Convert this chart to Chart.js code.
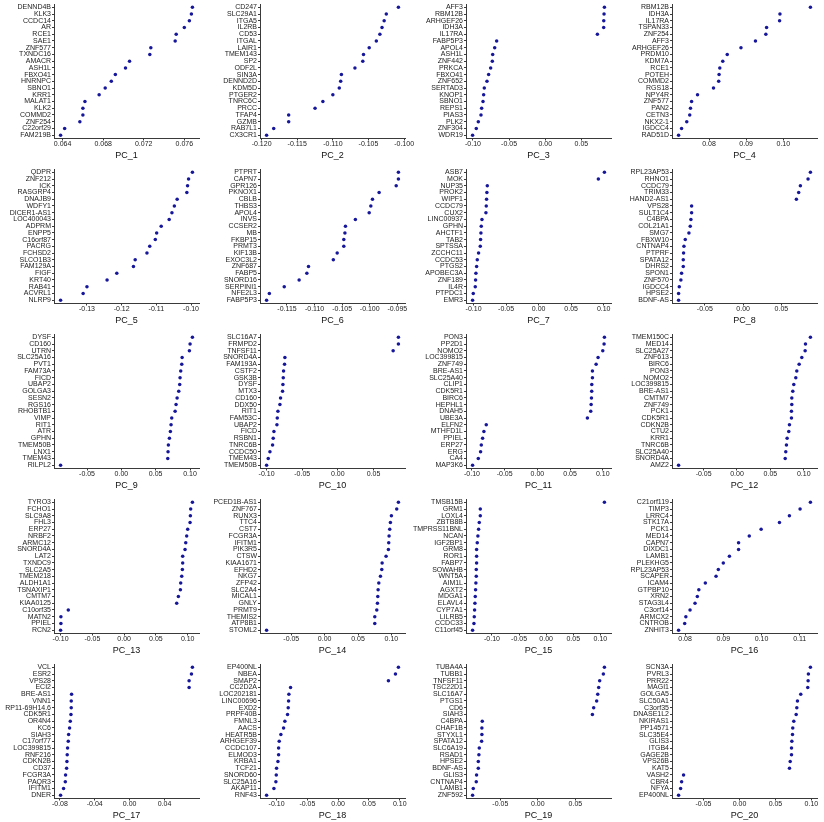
<!DOCTYPE html>
<html>
<head>
<meta charset="utf-8">
<script src="https://cdn.jsdelivr.net/npm/chart.js@4.4.0/dist/chart.umd.min.js"></script>
<style>
  html, body { margin: 0; padding: 0; background: #fff; overflow: hidden; width: 824px; height: 822px; }
  #grid { position: relative; width: 824px; height: 822px; }
  #grid canvas { position: absolute; }
</style>
</head>
<body>
<div id="grid"></div>
<script>
// one entry per panel, genes listed top to bottom
const pcNames = ['PC_1','PC_2','PC_3','PC_4','PC_5','PC_6','PC_7','PC_8','PC_9','PC_10',
                 'PC_11','PC_12','PC_13','PC_14','PC_15','PC_16','PC_17','PC_18','PC_19','PC_20'];

const genes = [
  ['DENND4B','KLK3','CCDC14','AR','RCE1','SAE1','ZNF577','TXNDC16','AMACR','ASH1L','FBXO41','HNRNPC','SBNO1','KRR1','MALAT1','KLK2','COMMD2','ZNF254','C22orf29','FAM219B'],
  ['CD247','SLC29A1','ITGA5','IL2RB','CD53','ITGAL','LAIR1','TMEM143','SP2','ODF2L','SIN3A','DENND2D','KDM5D','PTGER2','TNRC6C','PRCC','TFAP4','GZMB','RAB7L1','CX3CR1'],
  ['AFF3','RBM12B','ARHGEF26','IDH3A','IL17RA','FABP5P3','APOL4','ASH1L','ZNF442','PRKCA','FBXO41','ZNF652','SERTAD3','KNOP1','SBNO1','REPS1','PIAS3','PLK2','ZNF304','WDR19'],
  ['RBM12B','IDH3A','IL17RA','TSPAN33','ZNF254','AFF3','ARHGEF26','PRDM10','KDM7A','RCE1','POTEH','COMMD2','RGS18','NPY4R','ZNF577','PAN2','CETN3','NKX2-1','IGDCC4','RAD51D'],
  ['QDPR','ZNF212','ICK','RASGRP4','DNAJB9','WDFY1','DICER1-AS1','LOC400043','ADPRM','ENPP5','C16orf87','PACRG','FCHSD2','SLCO1B3','FAM129A','FIGF','KRT40','RAB41','ACVRL1','NLRP9'],
  ['PTPRT','CAPN7','GPR126','PKNOX1','CBLB','THBS3','APOL4','INVS','CCSER2','MB','FKBP15','PRMT3','KIF13B','EXOC3L2','ZNF687','FABP5','SNORD16','SERPINI1','NFE2L3','FABP5P3'],
  ['ASB7','MOK','NUP35','PROK2','WIPF1','CCDC79','CUX2','LINC00937','GPHN','AHCTF1','TAB2','SPTSSA','ZCCHC11','CCDC53','PTGS2','APOBEC3A','ZNF189','IL4R','PTPDC1','EMR3'],
  ['RPL23AP53','RHNO1','CCDC79','TRIM33','HAND2-AS1','VPS28','SULT1C4','C4BPA','COL21A1','SMG7','FBXW10','CNTNAP4','PTPRF','SPATA12','DHRS2','SPON1','ZNF570','IGDCC4','HPSE2','BDNF-AS'],
  ['DYSF','CD160','UTRN','SLC25A16','PVT1','FAM73A','FICD','UBAP2','GOLGA3','SESN2','RGS16','RHOBTB1','VIMP','RIT1','ATR','GPHN','TMEM50B','LNX1','TMEM43','RILPL2'],
  ['SLC16A7','FRMPD2','TNFSF11','SNORD4A','FAM193A','CSTF2','GSK3B','DYSF','MTX3','CD160','DDX50','RIT1','FAM53C','UBAP2','FICD','RSBN1','TNRC6B','CCDC50','TMEM43','TMEM50B'],
  ['PON3','PP2D1','NOMO2','LOC399815','ZNF749','BRE-AS1','SLC25A40','CLIP1','CDK5R1','BIRC6','HEPHL1','DNAH5','UBE3A','ELFN2','MTHFD1L','PPIEL','ERP27','ERG','CA4','MAP3K6'],
  ['TMEM150C','MED14','SLC25A27','ZNF613','BIRC6','PON3','NOMO2','LOC399815','BRE-AS1','CMTM7','ZNF749','PCK1','CDK5R1','CDKN2B','CTU2','KRR1','TNRC6B','SLC25A40','SNORD4A','AMZ2'],
  ['TYRO3','FCHO1','SLC9A8','FHL3','ERP27','NRBF2','ARMC12','SNORD4A','LAT2','TXNDC9','SLC2A5','TMEM218','ALDH1A1','TSNAXIP1','CMTM7','KIAA0125','C10orf35','MATN2','PPIEL','RCN2'],
  ['PCED1B-AS1','ZNF767','RUNX3','TTC4','CST7','FCGR3A','IFITM1','PIK3R5','CTSW','KIAA1671','EFHD2','NKG7','ZFP42','SLC2A4','MICAL1','GNLY','PRMT9','THEMIS2','ATP8B1','STOML2'],
  ['TMSB15B','GRM1','LOXL4','ZBTB8B','TMPRSS11BNL','NCAN','IGF2BP1','GRM8','ROR1','FABP7','SOWAHB','WNT5A','AIM1L','AGXT2','MDGA1','ELAVL4','CYP7A1','LILRB5','CCDC33','C11orf45'],
  ['C21orf119','TIMP3','LRRC4','STK17A','PCK1','MED14','CAPN7','DIXDC1','LAMB1','PLEKHG5','RPL23AP53','SCAPER','ICAM4','GTPBP10','XRN2','STAG3L4','C3orf14','ARMCX2','CNTROB','ZNHIT3'],
  ['VCL','ESR2','VPS28','ECI2','BRE-AS1','VNN1','RP11-69H14.6','CDK5R1','OR4N4','KC6','SIAH3','C17orf77','LOC399815','RNF216','CDKN2B','CD37','FCGR3A','PAQR3','IFITM1','DNER'],
  ['EP400NL','NBEA','SMAP2','CC2D2A','LOC202181','LINC00696','EXD2','PRPF40B','FMNL3','AACS','HEATR5B','ARHGEF39','CCDC107','ELMOD3','KRBA1','TCF21','SNORD60','SLC25A16','AKAP11','RNF43'],
  ['TUBA4A','TUBB1','TNFSF11','TSC22D1','SLC16A7','PTGS1','CD6','SIAH3','C4BPA','CHAF1B','STYXL1','SPATA12','SLC6A19','RSAD1','HPSE2','BDNF-AS','GLIS3','CNTNAP4','LAMB1','ZNF592'],
  ['SCN3A','PVRL3','PRR22','MAGI1','GOLGA5','SLC50A1','C3orf35','DNASE1L2','NKIRAS1','PP14571','SLC35E4','GLIS3','ITGB4','GAGE2B','VPS26B','KAT5','VASH2','CBR4','NFYA','EP400NL']
];

const loadings = [
  [0.0768,0.0767,0.0765,0.0760,0.0752,0.0751,0.0727,0.0726,0.0706,0.0702,0.0692,0.0688,0.0682,0.0676,0.0662,0.0660,0.0660,0.0657,0.0642,0.0638],
  [-0.1008,-0.1025,-0.1028,-0.1031,-0.1034,-0.1039,-0.1049,-0.1057,-0.1058,-0.1069,-0.1088,-0.1089,-0.1091,-0.1100,-0.1114,-0.1125,-0.1162,-0.1162,-0.1183,-0.1193],
  [0.0819,0.0814,0.0810,0.0809,0.0722,-0.0672,-0.0699,-0.0727,-0.0732,-0.0755,-0.0783,-0.0806,-0.0843,-0.0852,-0.0861,-0.0880,-0.0889,-0.0926,-0.0954,-0.1005],
  [0.1073,0.0991,0.0990,0.0955,0.0953,0.0925,0.0886,0.0849,0.0837,0.0829,0.0827,0.0826,0.0812,0.0769,0.0753,0.0750,0.0748,0.0740,0.0726,0.0718],
  [-0.0996,-0.1007,-0.1010,-0.1012,-0.1040,-0.1048,-0.1055,-0.1063,-0.1086,-0.1099,-0.1103,-0.1119,-0.1127,-0.1161,-0.1166,-0.1214,-0.1242,-0.1300,-0.1311,-0.1376],
  [-0.0948,-0.0948,-0.0952,-0.0983,-0.0995,-0.0998,-0.1001,-0.1026,-0.1044,-0.1045,-0.1047,-0.1047,-0.1059,-0.1066,-0.1111,-0.1114,-0.1128,-0.1155,-0.1182,-0.1187],
  [0.1011,0.0918,-0.0789,-0.0795,-0.0800,-0.0805,-0.0810,-0.0871,-0.0882,-0.0887,-0.0892,-0.0897,-0.0923,-0.0943,-0.0953,-0.0964,-0.0969,-0.0974,-0.1005,-0.1015],
  [0.0879,0.0848,0.0748,0.0726,0.0696,-0.0673,-0.0673,-0.0682,-0.0691,-0.0708,-0.0756,-0.0773,-0.0778,-0.0782,-0.0782,-0.0804,-0.0813,-0.0834,-0.0843,-0.0843],
  [0.1035,0.1001,0.0991,0.0885,0.0880,0.0865,0.0855,0.0850,0.0836,0.0812,0.0797,0.0783,0.0734,0.0724,0.0714,0.0700,0.0685,0.0680,0.0676,-0.0885],
  [0.0850,0.0850,0.0776,-0.0743,-0.0748,-0.0762,-0.0766,-0.0771,-0.0776,-0.0804,-0.0813,-0.0841,-0.0850,-0.0855,-0.0897,-0.0907,-0.0916,-0.0953,-0.0977,-0.1000],
  [0.1025,0.1020,0.1000,0.0928,0.0898,0.0842,0.0842,0.0832,0.0831,0.0827,0.0822,0.0816,0.0765,-0.0781,-0.0817,-0.0837,-0.0857,-0.0868,-0.0903,-0.0990],
  [0.1100,0.1026,0.1021,0.0971,0.0931,0.0896,0.0881,0.0851,0.0836,0.0821,0.0821,0.0816,0.0816,0.0786,0.0776,0.0751,0.0741,0.0731,0.0722,-0.0875],
  [0.1074,0.1047,0.1042,0.1037,0.1000,0.0984,0.0969,0.0958,0.0921,0.0921,0.0916,0.0906,0.0890,0.0885,0.0853,0.0827,-0.0879,-0.0995,-0.0995,-0.1000],
  [0.1105,0.1080,0.1000,0.0985,0.0975,0.0965,0.0960,0.0955,0.0920,0.0861,0.0856,0.0836,0.0811,0.0801,0.0796,0.0791,0.0781,0.0751,0.0751,-0.0870],
  [0.1074,-0.1215,-0.1215,-0.1234,-0.1246,-0.1259,-0.1271,-0.1283,-0.1283,-0.1283,-0.1289,-0.1289,-0.1296,-0.1302,-0.1308,-0.1314,-0.1320,-0.1326,-0.1332,-0.1357],
  [0.1128,0.1101,0.1073,0.1047,0.0999,0.0968,0.0940,0.0940,0.0916,0.0900,0.0887,0.0881,0.0853,0.0836,0.0832,0.0826,0.0813,0.0802,0.0799,0.0783],
  [0.0720,0.0709,0.0682,0.0682,-0.0666,-0.0670,-0.0670,-0.0673,-0.0681,-0.0689,-0.0700,-0.0704,-0.0712,-0.0716,-0.0719,-0.0723,-0.0735,-0.0738,-0.0758,-0.0792],
  [0.0978,0.0930,0.0816,-0.0773,-0.0800,-0.0805,-0.0811,-0.0822,-0.0865,-0.0886,-0.0930,-0.0957,-0.0967,-0.0967,-0.0978,-0.1000,-0.1005,-0.1011,-0.1043,-0.1162],
  [0.0887,0.0873,0.0824,0.0811,0.0798,0.0784,0.0744,0.0727,-0.0740,-0.0745,-0.0745,-0.0749,-0.0780,-0.0785,-0.0793,-0.0793,-0.0816,-0.0820,-0.0860,-0.0869],
  [0.0986,0.0958,0.0954,0.0949,0.0852,0.0806,0.0797,0.0788,0.0755,0.0741,0.0737,0.0728,0.0723,0.0723,0.0705,0.0695,-0.0777,-0.0804,-0.0818,-0.0846]
];

const tickLabels = [
  ['0.064','0.068','0.072','0.076'],
  ['-0.120','-0.115','-0.110','-0.105','-0.100'],
  ['-0.10','-0.05','0.00','0.05'],
  ['0.08','0.09','0.10'],
  ['-0.13','-0.12','-0.11','-0.10'],
  ['-0.115','-0.110','-0.105','-0.100','-0.095'],
  ['-0.10','-0.05','0.00','0.05','0.10'],
  ['-0.05','0.00','0.05'],
  ['-0.05','0.00','0.05','0.10'],
  ['-0.10','-0.05','0.00','0.05'],
  ['-0.10','-0.05','0.00','0.05','0.10'],
  ['-0.05','0.00','0.05','0.10'],
  ['-0.10','-0.05','0.00','0.05','0.10'],
  ['-0.05','0.00','0.05','0.10'],
  ['-0.10','-0.05','0.00','0.05','0.10'],
  ['0.08','0.09','0.10','0.11'],
  ['-0.08','-0.04','0.00','0.04'],
  ['-0.10','-0.05','0.00','0.05','0.10'],
  ['-0.05','0.00','0.05'],
  ['-0.05','0.00','0.05','0.10']
];

const FONT = '"Liberation Sans", Arial, Helvetica, sans-serif';
const DOT = '#16169a';
const AXIS = '#3a3a3a';
const COL_W = 206, ROW_H = 165, EXTRA = 14;   // extra width lets edge tick labels spill over

const grid = document.getElementById('grid');

pcNames.forEach((name, p) => {
    const col = p % 4, row = Math.floor(p / 4);
    const canvas = document.createElement('canvas');
    canvas.width = COL_W + EXTRA;
    canvas.height = 164;
    canvas.style.left = (col * COL_W) + 'px';
    canvas.style.top = (row * ROW_H) + 'px';
    canvas.style.width = canvas.width + 'px';
    canvas.style.height = canvas.height + 'px';
    grid.appendChild(canvas);

    const vals = loadings[p];
    const lo = Math.min(...vals), hi = Math.max(...vals);
    const pad = (hi - lo) * 0.05;   // ggplot default expansion
    const ticks = tickLabels[p];

    new Chart(canvas, {
        type: 'scatter',
        data: {
            datasets: [{
                data: vals.map((v, i) => ({ x: v, y: genes[p][i] })),
                backgroundColor: DOT,
                borderWidth: 0,
                pointRadius: 1.75
            }]
        },
        options: {
            responsive: false,
            animation: false,
            events: [],
            layout: { padding: { top: 2.5, right: 7 + EXTRA, left: 0, bottom: 0 } },
            plugins: { legend: { display: false }, tooltip: { enabled: false } },
            scales: {
                x: {
                    type: 'linear',
                    bounds: 'data',
                    min: lo - pad,
                    max: hi + pad,
                    afterBuildTicks: s => { s.ticks = ticks.map(t => ({ value: parseFloat(t) })); },
                    afterFit: s => { s.height = 25.5; s.paddingLeft = 0; s.paddingRight = 0; },
                    ticks: {
                        autoSkip: false, maxRotation: 0, padding: 0, color: '#222',
                        font: { family: FONT, size: 7, lineHeight: 1 },
                        callback: (v, i) => ticks[i]
                    },
                    grid: { drawOnChartArea: false, tickLength: 2, color: AXIS },
                    border: { color: AXIS, width: 1 },
                    title: {
                        display: true, text: name, color: '#111',
                        font: { family: FONT, size: 9 },
                        padding: { top: 0, bottom: 3.2 }
                    }
                },
                y: {
                    type: 'category',
                    labels: genes[p],
                    offset: true,
                    afterFit: s => { s.width = 54; s.paddingTop = 0; s.paddingBottom = 0; },
                    ticks: {
                        autoSkip: false, padding: 1, color: '#222',
                        font: { family: FONT, size: 7, lineHeight: 1 }
                    },
                    grid: { drawOnChartArea: false, tickLength: 2, color: AXIS },
                    border: { color: AXIS, width: 1 }
                }
            }
        }
    });
});
</script>
</body>
</html>
